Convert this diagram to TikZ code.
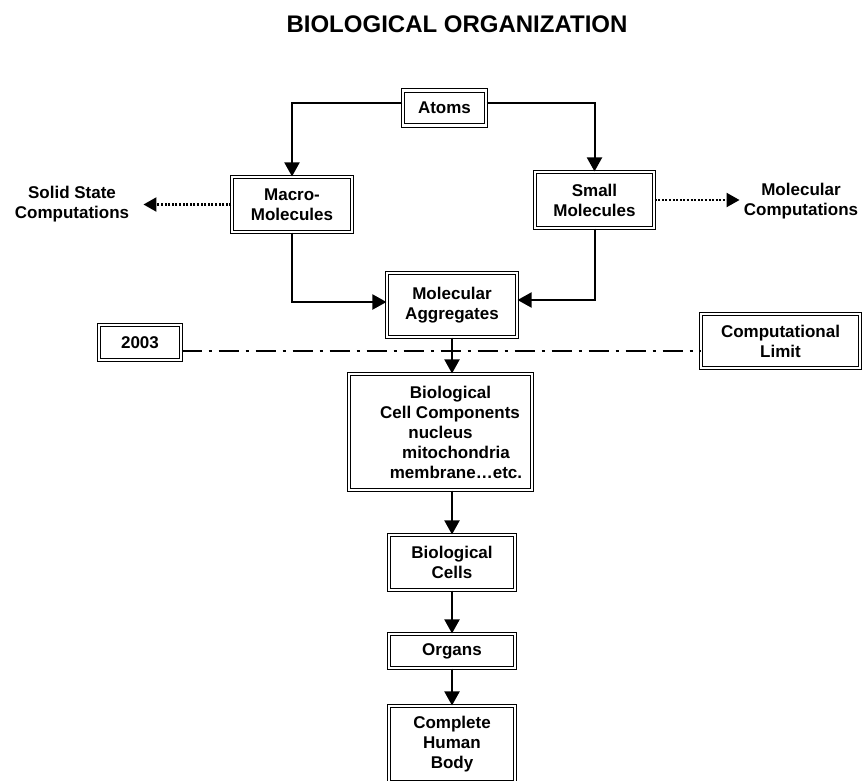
\documentclass[tikz,border=0pt]{standalone}
\usepackage{fontspec}
\setmainfont{Liberation Sans}
\usetikzlibrary{positioning,arrows.meta}

\begin{document}
\begin{tikzpicture}[x=1pt,y=-1pt,
    every node/.style={font=\fontsize{17}{20}\selectfont\bfseries,align=center},
    orgbox/.style={draw,double,line width=1.1pt,double distance=2.4pt,inner sep=0pt},
    flow/.style={-{Triangle[length=14pt,width=15pt]},line width=2pt},
    dotflow/.style={-{Triangle[length=13pt,width=14pt]},line width=2.2pt,dash pattern=on 2pt off 1.6pt},
    limitline/.style={line width=2pt,dash pattern=on 20pt off 7pt on 3pt off 7pt}]
  \useasboundingbox (0,0) rectangle (867,780);
  % Title
  \node (title) at (457,24) {\fontsize{24}{28}\selectfont BIOLOGICAL ORGANIZATION};
  % Top of the hierarchy
  \node[orgbox,minimum width=83pt,minimum height=35pt] (atoms) at (444.5,108) {Atoms};
  \node[orgbox,minimum width=120pt,minimum height=55pt] (macro) at (292,204.5) {Macro-\\Molecules};
  \node[orgbox,minimum width=119pt,minimum height=56pt] (small) at (594.5,200) {Small\\Molecules};
  \node[outer xsep=11pt] (solid) at (72,204) {Solid State\\Computations};
  \node[outer xsep=1pt] (molcomp) at (801,201) {Molecular\\Computations};
  \node[orgbox,minimum width=130pt,minimum height=64pt] (agg) at (452,305) {Molecular\\Aggregates};
  % Computational limit
  \node[orgbox,minimum width=82pt,minimum height=35pt] (yr) at (140,342.5) {2003};
  \node[orgbox,minimum width=159pt,minimum height=54pt] (limit) at (780.5,341) {Computational\\Limit};
  % Lower levels
  \node[orgbox,minimum width=183pt,minimum height=116pt] (comp) at (440.5,432)
     {\hspace*{20pt}Biological\\\hspace*{19pt}Cell Components\\nucleus\hspace*{10pt}\\
      \hspace*{31pt}mitochondria\\\hspace*{31pt}membrane…etc.};
  \node[orgbox,minimum width=126pt,minimum height=55pt] (cells) at (452,562.5) {Biological\\Cells};
  \node[orgbox,minimum width=126pt,minimum height=34pt] (organs) at (452,651) {Organs};
  \node[orgbox,minimum width=126pt,minimum height=76pt] (body) at (452,744) {Complete\\Human\\Body};
  % Connectors
  \draw[flow] ([yshift=5pt]atoms.west) -| (macro.north);
  \draw[flow] ([yshift=5pt]atoms.east) -| (small.north);
  \draw[dotflow] (macro.west) -- (macro.west -| solid.east);
  \draw[dotflow] (small.east) -- (small.east -| molcomp.west);
  \draw[flow] (macro.south) |- ([yshift=3pt]agg.west);
  \draw[flow] (small.south) |- ([yshift=5pt]agg.east);
  \draw[limitline] ([yshift=-8.5pt]yr.east) -- ([yshift=-8.5pt]yr.east -| limit.west);
  \draw[flow] (agg.south) -- (agg.south |- comp.north);
  \draw[flow] (cells.north |- comp.south) -- (cells.north);
  \draw[flow] (cells.south) -- (organs.north);
  \draw[flow] (organs.south) -- (body.north);
\end{tikzpicture}
\end{document}
